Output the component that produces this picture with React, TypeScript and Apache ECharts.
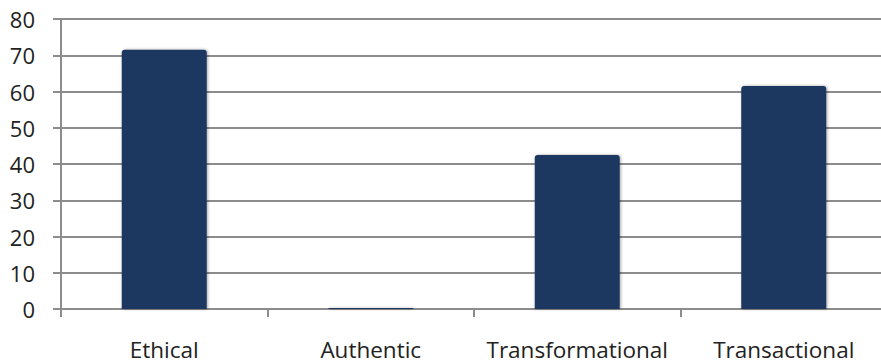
import React, { useEffect, useRef } from "react";
import * as echarts from "echarts";

const categories = ["Ethical", "Authentic", "Transformational", "Transactional"];
const values = [71.5, 0.3, 42.5, 61.5];
const yTicks = [0, 10, 20, 30, 40, 50, 60, 70, 80];

export default function App() {
  const ref = useRef<HTMLDivElement>(null);
  useEffect(() => {
    if (!ref.current) return;
    const chart = echarts.init(ref.current, null, { renderer: "svg" });
    chart.setOption({
      animation: false,
      backgroundColor: "#ffffff",
      grid: { left: 61, top: 19, right: 13, bottom: 54 },
      xAxis: {
        type: "category",
        data: categories,
        axisLine: { lineStyle: { color: "#8c8c8c", width: 2 } },
        axisTick: { show: true, interval: 0, length: 8, lineStyle: { color: "#8c8c8c", width: 2 } },
        axisLabel: { interval: 0, hideOverlap: false, color: "#222", fontFamily: "Open Sans", fontSize: 22.5, lineHeight: 24, margin: 28 },
      },
      yAxis: {
        type: "value",
        min: yTicks[0],
        max: yTicks[yTicks.length - 1],
        interval: 10,
        axisLine: { show: true, lineStyle: { color: "#8c8c8c", width: 2 } },
        axisTick: { show: true, length: 8, lineStyle: { color: "#8c8c8c", width: 2 } },
        axisLabel: { color: "#222", fontFamily: "Open Sans", fontSize: 22, margin: 26 },
        splitLine: { lineStyle: { color: "#8c8c8c", width: 2 } },
      },
      series: [
        {
          type: "bar",
          data: values,
          barWidth: 85,
          itemStyle: {
            color: "#1f3760",
            borderRadius: [3, 3, 0, 0],
            shadowBlur: 3,
            shadowColor: "rgba(0,0,0,0.35)",
            shadowOffsetX: 1,
          },
        },
      ],
    });
    return () => chart.dispose();
  }, []);
  return (
    <div style={{ position: "fixed", left: 0, top: 0, width: 881, height: 363, overflow: "hidden" }}>
      <div ref={ref} style={{ width: 900, height: 363 }} />
    </div>
  );
}
